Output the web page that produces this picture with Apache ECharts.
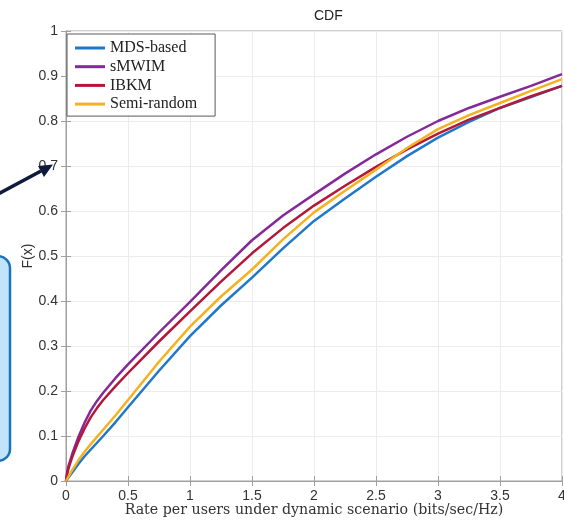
<!DOCTYPE html>
<html>
<head>
<meta charset="utf-8">
<script src="https://cdn.jsdelivr.net/npm/echarts@6/dist/echarts.min.js"></script>
<style>
  html, body { margin: 0; padding: 0; background: #ffffff; }
  #chart { width: 564px; height: 526px; }
</style>
</head>
<body>
<div id="chart"></div>
<script>
// Rate sample points (bits/sec/Hz) at which each empirical CDF is drawn
const rates = [0, 0.01, 0.02, 0.05, 0.1, 0.15, 0.2, 0.25, 0.3, 0.4, 0.5, 0.75, 1, 1.25, 1.5, 1.75, 2, 2.25, 2.5, 2.75, 3, 3.25, 3.5, 3.75, 4];

// F(x) for each scheme
const mdsBased   = [0, 0.004, 0.008, 0.019, 0.038, 0.055, 0.07, 0.085, 0.1, 0.131, 0.164, 0.245, 0.322, 0.39, 0.452, 0.517, 0.578, 0.628, 0.676, 0.722, 0.763, 0.798, 0.829, 0.853, 0.878];
const sMWIM      = [0, 0.02, 0.033, 0.06, 0.098, 0.13, 0.157, 0.178, 0.196, 0.229, 0.259, 0.33, 0.398, 0.468, 0.535, 0.59, 0.637, 0.683, 0.726, 0.765, 0.8, 0.829, 0.854, 0.878, 0.904];
const ibkm       = [0, 0.016, 0.028, 0.053, 0.088, 0.117, 0.142, 0.162, 0.18, 0.211, 0.24, 0.31, 0.377, 0.443, 0.506, 0.562, 0.612, 0.656, 0.698, 0.737, 0.772, 0.803, 0.829, 0.855, 0.878];
const semiRandom = [0, 0.005, 0.01, 0.024, 0.046, 0.065, 0.082, 0.098, 0.114, 0.146, 0.18, 0.265, 0.343, 0.41, 0.47, 0.537, 0.597, 0.645, 0.692, 0.74, 0.782, 0.813, 0.84, 0.867, 0.893];

const seriesNames = ['MDS-based', 'sMWIM', 'IBKM', 'Semi-random'];
const seriesValues = [mdsBased, sMWIM, ibkm, semiRandom];
const seriesColors = ['#1f78c8', '#85299a', '#b3173a', '#f2b221'];

// Axis ticks
const xTicks = { min: 0, max: 4, interval: 0.5 };
const yTicks = { min: 0, max: 1, interval: 0.1 };

const chart = echarts.init(document.getElementById('chart'), null, { renderer: 'canvas' });

const sansFont = '"Liberation Sans", Arial, sans-serif';
const serifFont = '"Liberation Serif", "Times New Roman", serif';
const wideSerifFont = '"DejaVu Serif", "Liberation Serif", serif';
const boxColor = '#a0a0a0';
const gridColor = '#ececec';
const labelColor = '#333333';

function pairs(values) {
  return rates.map((r, i) => [r, values[i]]);
}

const baseX = {
  type: 'value', min: xTicks.min, max: xTicks.max, interval: xTicks.interval,
  axisLine: { show: true, lineStyle: { color: boxColor, width: 1 } },
  axisTick: { show: true, inside: true, length: 5, lineStyle: { color: boxColor } },
  splitLine: { show: false }
};
const baseY = {
  type: 'value', min: yTicks.min, max: yTicks.max, interval: yTicks.interval,
  axisLine: { show: true, lineStyle: { color: boxColor, width: 1 } },
  axisTick: { show: true, inside: true, length: 5, lineStyle: { color: boxColor } },
  splitLine: { show: false }
};

const option = {
  backgroundColor: '#ffffff',
  animation: false,
  grid: {
    left: 66, right: 2, top: 31, bottom: 45,
    containLabel: false,
    outerBoundsMode: 'none',
    show: true, borderColor: boxColor, borderWidth: 1, backgroundColor: '#ffffff'
  },
  legend: {
    orient: 'vertical',
    left: 67, top: 34,
    data: seriesNames,
    icon: 'rect',
    itemWidth: 30, itemHeight: 3,
    itemGap: 2.7,
    padding: [6, 18, 4, 8],
    backgroundColor: '#ffffff',
    borderColor: '#5a5a5a', borderWidth: 1,
    textStyle: { fontFamily: serifFont, fontSize: 16, color: '#222222', lineHeight: 16 }
  },
  xAxis: [
    Object.assign({}, baseX, {
      position: 'bottom',
      axisLabel: { show: true, margin: 8, fontFamily: sansFont, fontSize: 14, color: labelColor },
      splitLine: { show: true, lineStyle: { color: gridColor, width: 1 } },
      name: 'Rate per users under dynamic scenario (bits/sec/Hz)',
      nameLocation: 'middle', nameGap: 22, nameMoveOverlap: false,
      nameTextStyle: { fontFamily: wideSerifFont, fontSize: 14.2, color: labelColor }
    }),
    Object.assign({}, baseX, { position: 'top', axisLabel: { show: false } })
  ],
  yAxis: [
    Object.assign({}, baseY, {
      position: 'left',
      axisLabel: { show: true, margin: 8, fontFamily: sansFont, fontSize: 14, color: labelColor },
      splitLine: { show: true, lineStyle: { color: gridColor, width: 1 } },
      name: 'F(x)', nameLocation: 'middle', nameGap: 31, nameRotate: 90, nameMoveOverlap: false,
      nameTextStyle: { fontFamily: sansFont, fontSize: 14, color: labelColor }
    }),
    Object.assign({}, baseY, { position: 'right', axisLabel: { show: false } })
  ],
  series: seriesNames.map((name, i) => ({
    name: name,
    type: 'line',
    xAxisIndex: 0, yAxisIndex: 0,
    data: pairs(seriesValues[i]),
    showSymbol: false, symbol: 'none',
    smooth: false,
    color: seriesColors[i],
    lineStyle: { color: seriesColors[i], width: 2.5, join: 'round' },
    z: 2 + i
  })),
  graphic: [
    {
      type: 'text', left: 314, top: 9,
      style: { text: 'CDF', x: 0, y: 0, fontFamily: sansFont, fontSize: 14, fill: '#222222', textAlign: 'center' }
    },
    // callout panel at the left edge
    {
      type: 'rect', z: 100,
      shape: { x: -30, y: 256, width: 40, height: 205, r: 12 },
      style: { fill: '#c2e4fb', stroke: '#1b72bd', lineWidth: 2.5 }
    },
    // pointer arrow
    {
      type: 'line', z: 100,
      shape: { x1: -2, y1: 194, x2: 41, y2: 171 },
      style: { stroke: '#0f1b3d', lineWidth: 3.5 }
    },
    {
      type: 'polygon', z: 100,
      shape: { points: [[53, 164.5], [38, 166], [44, 177]] },
      style: { fill: '#0f1b3d' }
    }
  ]
};

chart.setOption(option);
</script>
</body>
</html>
